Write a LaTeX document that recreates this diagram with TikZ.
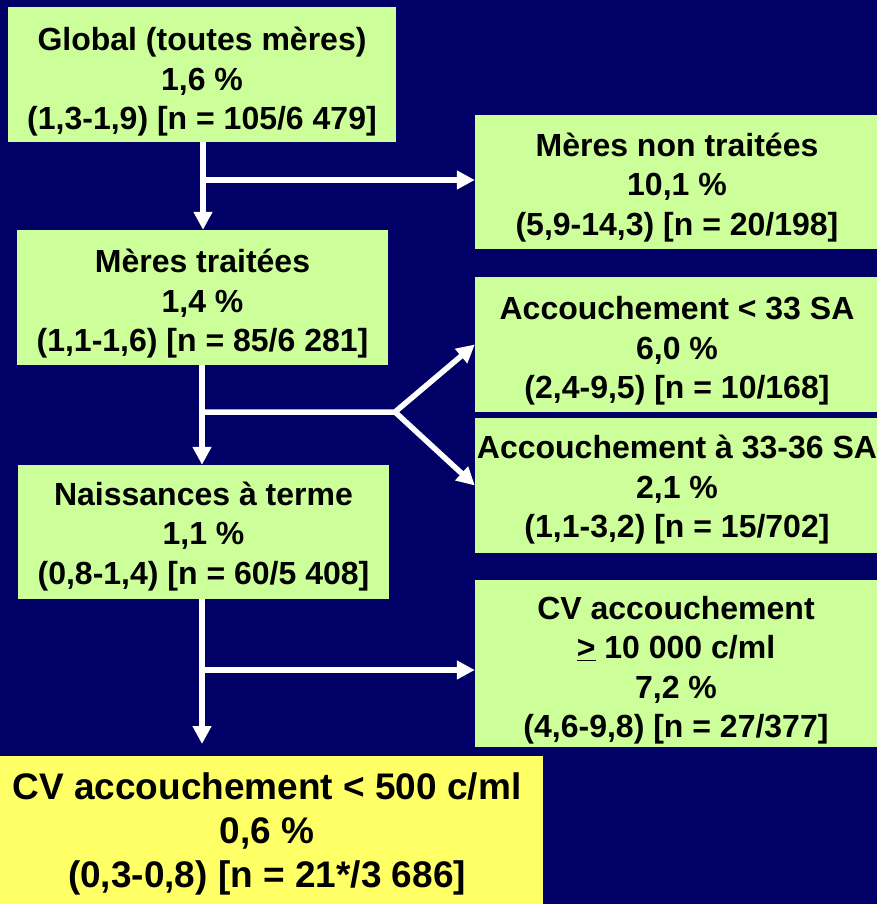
\documentclass[tikz,border=0pt]{standalone}
\usepackage{fontspec}
\setmainfont{Liberation Sans}
\usetikzlibrary{arrows.meta}
\definecolor{bg}{HTML}{000066}
\definecolor{boxg}{HTML}{CCFF99}
\definecolor{boxy}{HTML}{FFFF66}
\begin{document}
\begin{tikzpicture}[x=1pt,y=-1pt,
  box/.style={fill=boxg, draw=none, inner sep=0pt},
  ybox/.style={fill=boxy, draw=none, inner sep=0pt},
  txt/.style={align=center, text=black, inner sep=0pt, font=\bfseries\fontsize{32}{39.5}\selectfont},
  ytxt/.style={align=center, text=black, inner sep=0pt, font=\bfseries\fontsize{37}{44}\selectfont},
  conn/.style={draw=white, line width=5.5pt},
  arr/.style={conn, -{Triangle[length=18pt,width=18pt]}}]
\fill[bg] (0,0) rectangle (877,904);
\useasboundingbox (0,0) rectangle (877,904);
% boxes
\node[box, minimum width=388pt, minimum height=135pt] (g) at (202,74.5) {};
\node[box, minimum width=402pt, minimum height=134pt] (nt) at (676,182) {};
\node[box, minimum width=371pt, minimum height=135pt] (mt) at (202.5,297.5) {};
\node[box, minimum width=402pt, minimum height=135pt] (a33) at (676,344.5) {};
\node[box, minimum width=402pt, minimum height=135pt] (a36) at (676,485.5) {};
\node[box, minimum width=371pt, minimum height=134pt] (nat) at (203.5,532) {};
\node[box, minimum width=402pt, minimum height=167pt] (cv) at (676,663.5) {};
\node[ybox, minimum width=543pt, minimum height=148pt] (yb) at (271.5,830) {};
% texts
\node[txt] (tg) at (202,82) {Global (toutes mères)\\1,6 \%\\(1,3-1,9) [n = 105/6 479]};
\node[txt] (tnt) at (677,187.5) {Mères non traitées\\10,1 \%\\(5,9-14,3) [n = 20/198]};
\node[txt] (tmt) at (202.5,304) {Mères traitées\\1,4 \%\\(1,1-1,6) [n = 85/6 281]};
\node[txt] (ta33) at (677,351) {Accouchement < 33 SA\\6,0 \%\\(2,4-9,5) [n = 10/168]};
\node[txt] (ta36) at (677,490) {Accouchement à 33-36 SA\\2,1 \%\\(1,1-3,2) [n = 15/702]};
\node[txt] (tnat) at (203.5,536.5) {Naissances à terme\\1,1 \%\\(0,8-1,4) [n = 60/5 408]};
\node[txt] (tcv) at (676,670) {CV accouchement\\\underline{>} 10 000 c/ml\\7,2 \%\\(4,6-9,8) [n = 27/377]};
\node[ytxt] (ty) at (267,834) {CV accouchement < 500 c/ml\\0,6 \%\\(0,3-0,8) [n = 21*/3 686]};
% connectors
\coordinate (j1) at (203,180);
\draw[arr] (g.south -| j1) -- (mt.north -| j1);
\draw[arr] (j1) -- (j1 -| nt.west);
\coordinate (j2) at (202,412);
\coordinate (br) at (395,412);
\draw[arr] (mt.south -| j2) -- (nat.north -| j2);
\draw[arr, line join=miter] (j2) -- (br) -- (a33.west);
\draw[arr] (br) -- (a36.west);
\coordinate (j3) at (202,670);
\coordinate (e3) at (202,744);
\draw[arr] (nat.south -| j3) -- (e3);
\draw[arr] (j3) -- (j3 -| cv.west);
\end{tikzpicture}
\end{document}
